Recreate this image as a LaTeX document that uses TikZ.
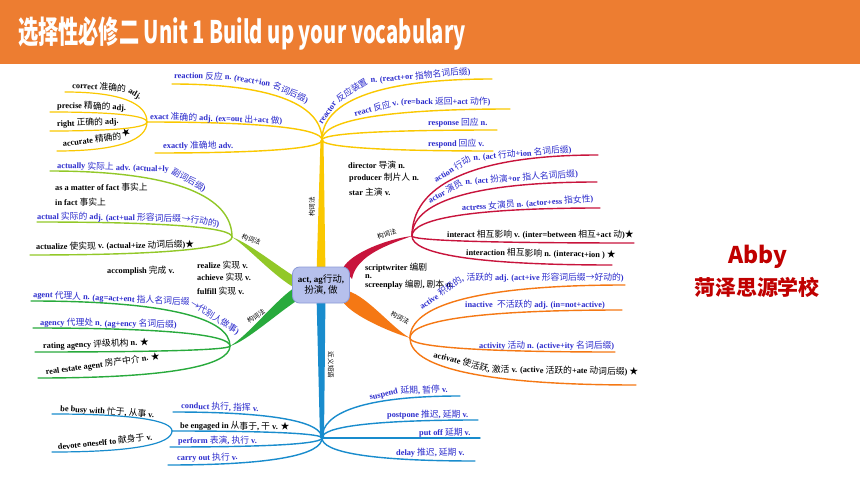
\documentclass[tikz,border=0pt]{standalone}
\usepackage{fontspec}
\setmainfont{Liberation Serif}
\newfontfamily\zhfont{Noto Sans CJK SC}[Scale=1.06]
\usetikzlibrary{calc}

\definecolor{titleorg}{RGB}{237,125,49}
\definecolor{cyel}{RGB}{250,200,0}
\definecolor{clgr}{RGB}{146,200,40}
\definecolor{cdgr}{RGB}{40,170,60}
\definecolor{cred}{RGB}{200,20,60}
\definecolor{corg}{RGB}{245,120,20}
\definecolor{cblu}{RGB}{25,140,205}
\definecolor{tblue}{RGB}{45,45,205}
\definecolor{hubfill}{RGB}{182,192,236}
\definecolor{hubdraw}{RGB}{140,155,215}
\definecolor{schoolred}{RGB}{192,0,0}

\newcommand\zh[1]{{\zhfont\mdseries #1}}
\newcommand\lblfont{\bfseries\fontsize{8.3}{9}\selectfont}

\begin{document}
\begin{tikzpicture}[x=1pt,y=-1pt,line cap=round,
  leaf/.style={to path={.. controls ($(\tikztostart)!.6!(\tikztostart |- \tikztotarget)$) and ($(\tikztostart |- \tikztotarget)!.3!(\tikztotarget)$) .. (\tikztotarget)}},
  lbl/.style={inner sep=0pt, anchor=base west, text=tblue, font=\lblfont},
  blk/.style={lbl, text=black},
  gcl/.style={inner sep=0pt, font=\zhfont\fontsize{6.2}{7}\selectfont},
  hub/.style={rounded corners=7pt, fill=hubfill, draw=hubdraw, line width=0.8pt,
    minimum width=57pt, minimum height=36pt, align=center, inner sep=1pt,
    font=\lblfont\fontsize{9}{11}\selectfont}]
  \useasboundingbox (0,0) rectangle (860,484);
  \fill[white] (0,0) rectangle (860,484);

  % title bar
  \fill[titleorg] (0,0) rectangle (860,64);
  \node[text=white, inner sep=0pt, anchor=base west, xscale=.65,
    font=\zhfont\bfseries\fontsize{29.3}{34}\selectfont] (title) at (18,44)
    {选择性必修二 Unit 1 Build up your vocabulary};
  \node[text=schoolred, inner sep=0pt, font=\zhfont\bfseries\fontsize{21.7}{26}\selectfont] (abby) at (758,257) {Abby};
  \node[text=schoolred, inner sep=0pt, font=\zhfont\bfseries\fontsize{19.8}{24}\selectfont] (school) at (757,287) {菏泽思源学校};

  % junctions
  \coordinate (hubc) at (321,285);
  \coordinate (yj) at (322,140);
  \coordinate (bj) at (322,438);
  \coordinate (lgj) at (232,237);
  \coordinate (dgj) at (230,346);
  \coordinate (rj) at (412,236);
  \coordinate (oj) at (410,338);
  \coordinate (xj) at (147,122);
  \coordinate (sj) at (172,431);

  % branch ends
  \coordinate (reaction) at (172,84);
  \coordinate (exactly) at (155,153);
  \coordinate (correct) at (65,92);
  \coordinate (precise) at (50,112);
  \coordinate (right) at (50,131);
  \coordinate (accurate) at (57,151);
  \coordinate (reactor) at (492,79);
  \coordinate (react) at (510,109);
  \coordinate (response) at (497,130);
  \coordinate (respond) at (493,151);
  \coordinate (actually) at (50,171);
  \coordinate (actual) at (37,222);
  \coordinate (actualize) at (30,255);
  \coordinate (agent) at (31,301);
  \coordinate (agency) at (33,328);
  \coordinate (rating) at (35,352);
  \coordinate (estate) at (38,378);
  \coordinate (action) at (598,155);
  \coordinate (actor) at (597,182);
  \coordinate (actress) at (600,208);
  \coordinate (interact) at (634,243);
  \coordinate (interaction) at (612,265);
  \coordinate (active) at (625,285);
  \coordinate (inactive) at (622,310);
  \coordinate (activity) at (615,352);
  \coordinate (activate) at (636,385);
  \coordinate (suspend) at (460,396);
  \coordinate (postpone) at (478,420);
  \coordinate (putoff) at (480,438);
  \coordinate (delay) at (475,461);
  \coordinate (conduct) at (173,412);
  \coordinate (perform) at (170,447);
  \coordinate (carry) at (168,465);
  \coordinate (busy) at (52,414);
  \coordinate (devote) at (52,452);

  % trunks
  \fill[cyel] ($(hubc)+(-4.5,-10)$) -- ($(yj)+(-1.5,0)$) -- ($(yj)+(1.5,0)$) -- ($(hubc)+(4.5,-10)$) -- cycle;
  \fill[cblu] ($(hubc)+(-4.5,10)$) -- ($(bj)+(-2,0)$) -- ($(bj)+(2,0)$) -- ($(hubc)+(4.5,10)$) -- cycle;
  \fill[clgr] (lgj) .. controls +(20,8) and +(-20,-12) .. ($(hubc)+(-24,-7)$)
    -- ($(hubc)+(-22,5)$) .. controls +(-22,-10) and +(16,10) .. (lgj) -- cycle;
  \fill[cdgr] (dgj) .. controls +(18,-10) and +(-20,12) .. ($(hubc)+(-24,1)$)
    -- ($(hubc)+(-20,13)$) .. controls +(-20,12) and +(16,-4) .. (dgj) -- cycle;
  \fill[cred] (rj) .. controls +(-25,3) and +(8,-15) .. ($(hubc)+(22,-17)$)
    -- ($(hubc)+(31,-6)$) .. controls +(4,-24) and +(-22,8) .. (rj) -- cycle;
  \fill[corg] (oj) .. controls +(-20,-6) and +(10,14) .. ($(hubc)+(22,17)$)
    -- ($(hubc)+(27,6)$) .. controls +(20,6) and +(-18,-10) .. (oj) -- cycle;

  % branches
  \path[cyel, line width=1.4pt] (yj) edge[leaf] (reaction) edge[leaf] (xj) edge[leaf] (exactly)
    edge[leaf] (reactor) edge[leaf] (react) edge[leaf] (response) edge[leaf] (respond);
  \path[cyel, line width=1.2pt] (xj) edge[leaf] (correct) edge[leaf] (precise)
    edge[leaf] (right) edge[leaf] (accurate);
  \path[clgr, line width=1.4pt] (lgj) edge[leaf] (actually) edge[leaf] (actual) edge[leaf] (actualize);
  \path[cdgr, line width=1.4pt] (dgj) edge[leaf] (agent) edge[leaf] (agency)
    edge[leaf] (rating) edge[leaf] (estate);
  \path[cred, line width=1.4pt] (rj) edge[leaf] (action) edge[leaf] (actor) edge[leaf] (actress)
    edge[leaf] (interact) edge[leaf] (interaction);
  \path[corg, line width=1.4pt] (oj) edge[leaf] (active) edge[leaf] (inactive)
    edge[leaf] (activity) edge[leaf] (activate);
  \path[cblu, line width=1.4pt] (bj) edge[leaf] (suspend) edge[leaf] (postpone) edge[leaf] (putoff)
    edge[leaf] (delay) edge[leaf] (conduct) edge[leaf] (sj) edge[leaf] (perform) edge[leaf] (carry);
  \path[cblu, line width=1.2pt] (sj) edge[leaf] (busy) edge[leaf] (devote);

  \node[hub] (hub) at (hubc) {act, ag\zh{行动},\\ \zh{扮演}, \zh{做}};

  % trunk labels
  \node[gcl, rotate=90] (ylab) at (312,207) {构词法};
  \node[gcl, rotate=-90] (blab) at (331,365) {近义短语};
  \node[gcl, rotate=-22, anchor=base west] (lglab) at (241,238) {构词法};
  \node[gcl, rotate=33, anchor=base west] (dglab) at (249,324) {构词法};
  \node[gcl, rotate=18, anchor=base west] (rlab) at (378,240) {构词法};
  \node[gcl, rotate=-28, anchor=base west] (olab) at (390,315) {构词法};

  % yellow words
  \node[lbl, rotate=-2] (reactionA) at (174,78) {reaction \zh{反应} n.};
  \node[lbl, rotate=-10] (reactionB) at (reactionA.base east) {\ (react+ion};
  \node[lbl, rotate=-24] (reactionC) at (reactionB.base east) {\ \zh{名词后缀})};
  \node[lbl, rotate=-2] (exactT) at (150,119) {exact \zh{准确的} adj. (ex=out \zh{出}+act \zh{做})};
  \node[lbl] (exactlyT) at (163,149) {exactly \zh{准确地} adv.};
  \node[blk, rotate=-4] (correctA) at (72,88) {correct \zh{准确的}};
  \node[blk, rotate=-30] (correctB) at (correctA.base east) {\ adj.};
  \node[blk, rotate=-2] (preciseT) at (57,108) {precise \zh{精确的} adj.};
  \node[blk, rotate=3] (rightT) at (57,127) {right \zh{正确的} adj.};
  \node[blk, rotate=8] (accurateA) at (63,147) {accurate \zh{精确的}};
  \node[blk, rotate=30] (accurateB) at (accurateA.base east) {\ \zh{★}};
  \node[lbl, rotate=55] (reactorA) at (322,125) {reactor};
  \node[lbl, rotate=33] (reactorB) at (reactorA.base east) {\ \zh{反应装置}};
  \node[lbl, rotate=5] (reactorC) at (reactorB.base east) {\ n. (react+or \zh{指物名词后缀})};
  \node[lbl, rotate=16] (reactA) at (355,117) {react \zh{反应} v.};
  \node[lbl] (reactB) at (reactA.base east) {\ (re=back \zh{返回}+act \zh{动作})};
  \node[lbl] (responseT) at (428,126) {response \zh{回应} n.};
  \node[lbl] (respondT) at (428,147) {respond \zh{回应} v.};
  \node[blk] (director) at (348,168) {director \zh{导演} n.};
  \node[blk] (producer) at (349,181) {producer \zh{制片人} n.};
  \node[blk] (star) at (349,196) {star \zh{主演} v.};

  % light green words
  \node[lbl, rotate=-2] (actuallyA) at (57,168) {actually \zh{实际上} adv. (actual+ly};
  \node[lbl, rotate=-30] (actuallyB) at (actuallyA.base east) {\ \zh{副词后缀})};
  \node[blk] (fact1) at (55,191) {as a matter of fact \zh{事实上}};
  \node[blk] (fact2) at (55,206) {in fact \zh{事实上}};
  \node[lbl, rotate=-1] (actualA) at (37,219) {actual \zh{实际的} adj. (act+ual \zh{形容词后缀}};
  \node[lbl, rotate=-8] (actualB) at (actualA.base east) {\zh{→行动的})};
  \node[blk, rotate=1] (actualizeT) at (36,250) {actualize \zh{使实现} v. (actual+ize \zh{动词后缀})\zh{★}};
  \node[blk] (accomplish) at (107,273) {accomplish \zh{完成} v.};
  \node[blk] (realize) at (197,268) {realize \zh{实现} v.};
  \node[blk] (achieve) at (197,280) {achieve \zh{实现} v.};
  \node[blk] (fulfill) at (197,294) {fulfill \zh{实现} v.};

  % dark green words
  \node[lbl, rotate=-3] (agentA) at (33,297) {agent \zh{代理人} n. (ag=act+ent \zh{指人名词后缀}};
  \node[lbl, rotate=-32] (agentB) at (agentA.base east) {\zh{→代别人做事})};
  \node[lbl, rotate=-1] (agencyT) at (40,325) {agency \zh{代理处} n. (ag+ency \zh{名词后缀})};
  \node[blk, rotate=2] (ratingT) at (43,349) {rating agency \zh{评级机构} n. \zh{★}};
  \node[blk, rotate=8] (estateT) at (46,375) {real estate agent \zh{房产中介} n. \zh{★}};

  % red words
  \node[lbl, rotate=32] (actionA) at (436,183) {action \zh{行动}};
  \node[lbl, rotate=5] (actionB) at (actionA.base east) {\ n. (act \zh{行动}+ion \zh{名词后缀})};
  \node[lbl, rotate=30] (actorA) at (430,204) {actor \zh{演员}};
  \node[lbl, rotate=4] (actorB) at (actorA.base east) {\ n. (act \zh{扮演}+or \zh{指人名词后缀})};
  \node[lbl, rotate=4] (actressT) at (462,211) {actress \zh{女演员} n. (actor+ess \zh{指女性})};
  \node[blk] (interactT) at (447,237.5) {interact \zh{相互影响} v. (inter=between \zh{相互}+act \zh{动})\zh{★}};
  \node[blk, rotate=-1] (interactionT) at (466,255) {interaction \zh{相互影响} n. (interact+ion ) \zh{★}};
  \node[blk] (scriptwriter) at (365,270) {scriptwriter \zh{编剧}};
  \node[blk] (nn) at (365,278) {n.};
  \node[blk] (screenplay) at (365,287) {screenplay \zh{编剧}, \zh{剧本} n.};

  % orange words
  \node[lbl, rotate=35] (activeA) at (422,310) {active \zh{积极的},};
  \node[lbl] (activeB) at (activeA.base east) {\ \zh{活跃的} adj. (act+ive \zh{形容词后缀→好动的})};
  \node[lbl] (inactiveT) at (465,307.5) {inactive \ \zh{不活跃的} adj. (in=not+active)};
  \node[lbl] (activityT) at (479,348.5) {activity \zh{活动} n. (active+ity \zh{名词后缀})};
  \node[blk, rotate=-15] (activateA) at (433,357) {activate \zh{使活跃},};
  \node[blk, rotate=-1] (activateB) at (activateA.base east) {\ \zh{激活} v. (active \zh{活跃的}+ate \zh{动词后缀}) \zh{★}};

  % blue words
  \node[lbl, rotate=12] (suspendA) at (370,400) {suspend};
  \node[lbl, rotate=2] (suspendB) at (suspendA.base east) {\ \zh{延期}, \zh{暂停} v.};
  \node[lbl] (postponeT) at (387,417) {postpone \zh{推迟}, \zh{延期} v.};
  \node[lbl] (putoffT) at (419,435) {put off \zh{延期} v.};
  \node[lbl] (delayT) at (396,455.5) {delay \zh{推迟}, \zh{延期} v.};
  \node[lbl, rotate=-2] (conductT) at (181,408.5) {conduct \zh{执行}, \zh{指挥} v.};
  \node[blk, rotate=-1] (engagedT) at (180,428) {be engaged in \zh{从事于}, \zh{干} v. \zh{★}};
  \node[blk, rotate=-4] (busyT) at (60,411) {be busy with \zh{忙于}, \zh{从事} v.};
  \node[blk, rotate=6] (devoteT) at (58,450) {devote oneself to \zh{献身于} v.};
  \node[lbl] (performT) at (178,443) {perform \zh{表演}, \zh{执行} v.};
  \node[lbl, rotate=1] (carryT) at (177,461) {carry out \zh{执行} v.};
\end{tikzpicture}
\end{document}
